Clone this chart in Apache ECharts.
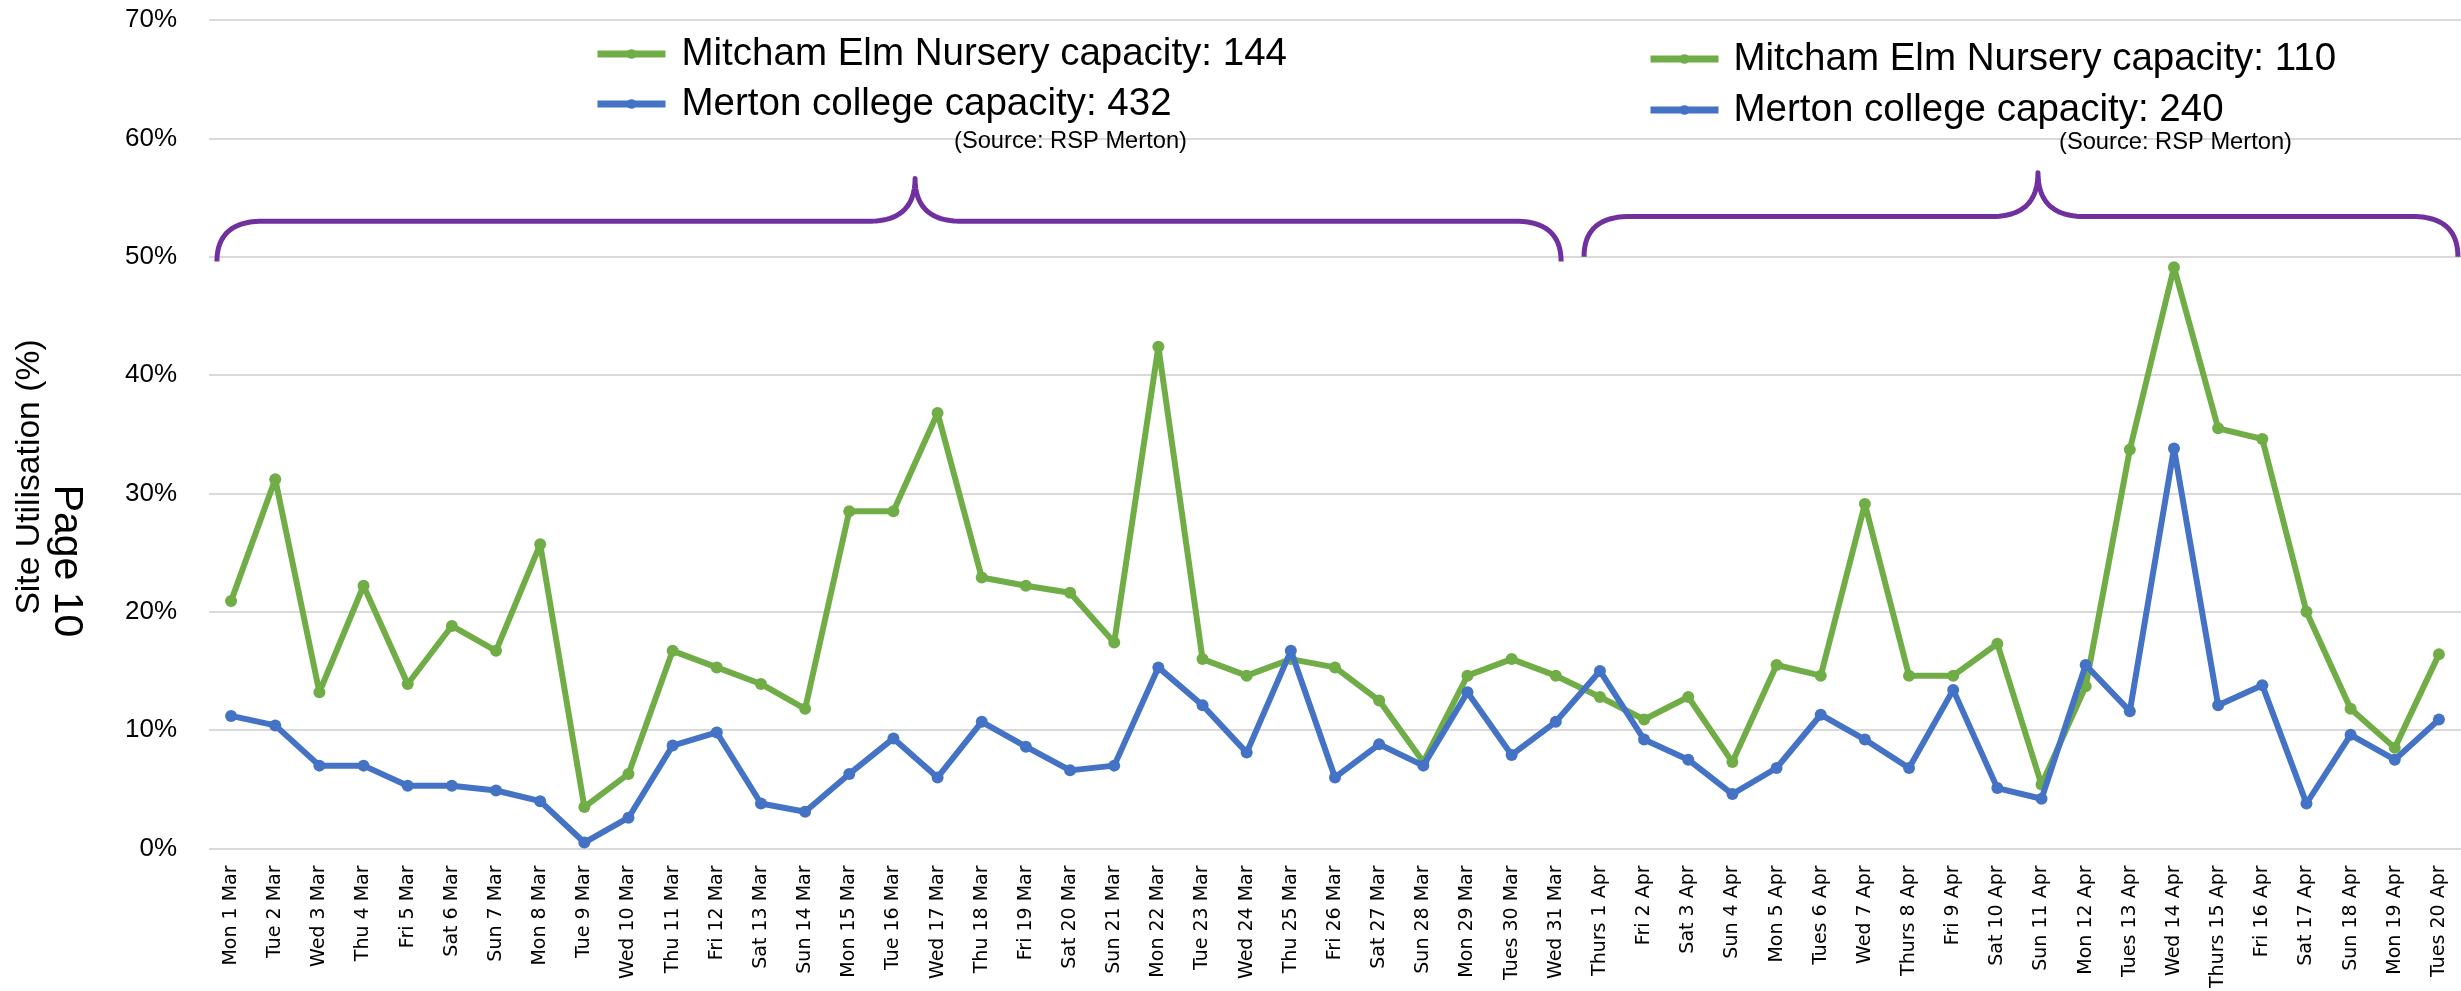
<!DOCTYPE html>
<html>
<head>
<meta charset="utf-8">
<script src="https://cdn.jsdelivr.net/npm/echarts@6/dist/echarts.min.js"></script>
<style>
html,body{margin:0;padding:0;background:#fff;}
#chart{width:2461px;height:991px;}
</style>
</head>
<body>
<div id="chart"></div>
<script>
const categories = ['Mon 1 Mar','Tue 2 Mar','Wed 3 Mar','Thu 4 Mar','Fri 5 Mar','Sat 6 Mar','Sun 7 Mar','Mon 8 Mar','Tue 9 Mar','Wed 10 Mar','Thu 11 Mar','Fri 12 Mar','Sat 13 Mar','Sun 14 Mar','Mon 15 Mar','Tue 16 Mar','Wed 17 Mar','Thu 18 Mar','Fri 19 Mar','Sat 20 Mar','Sun 21 Mar','Mon 22 Mar','Tue 23 Mar','Wed 24 Mar','Thu 25 Mar','Fri 26 Mar','Sat 27 Mar','Sun 28 Mar','Mon 29 Mar','Tues 30 Mar','Wed 31 Mar','Thurs 1 Apr','Fri 2 Apr','Sat 3 Apr','Sun 4 Apr','Mon 5 Apr','Tues 6 Apr','Wed 7 Apr','Thurs 8 Apr','Fri 9 Apr','Sat 10 Apr','Sun 11 Apr','Mon 12 Apr','Tues 13 Apr','Wed 14 Apr','Thurs 15 Apr','Fri 16 Apr','Sat 17 Apr','Sun 18 Apr','Mon 19 Apr','Tues 20 Apr'];

const mitchamValues = [20.9,31.2,13.2,22.2,13.9,18.8,16.7,25.7,3.5,6.3,16.7,15.3,
  13.9,11.8,28.5,28.5,36.8,22.9,22.2,21.6,17.4,42.4,16.0,
  14.6,16.0,15.3,12.5,7.3,14.6,16.0,14.6,12.8,10.9,12.8,
  7.3,15.5,14.6,29.1,14.6,14.6,17.3,5.4,13.7,33.7,49.1,35.5,
  34.6,20.0,11.8,8.5,16.4];

const mertonValues = [11.2,10.4,7.0,7.0,5.3,5.3,4.9,4.0,0.5,2.6,8.7,9.8,
  3.8,3.1,6.3,9.3,6.0,10.7,8.6,6.6,7.0,15.3,12.1,
  8.1,16.7,6.0,8.8,7.0,13.2,7.9,10.7,15.0,9.2,7.5,
  4.6,6.8,11.3,9.2,6.8,13.4,5.1,4.2,15.5,11.6,33.8,12.1,
  13.8,3.8,9.6,7.5,10.9];

const seriesNames = ['Mitcham Elm Nursery', 'Merton college'];
const capacitiesMarch = [144, 432];
const capacitiesApril = [110, 240];
const yTicks = [0,10,20,30,40,50,60,70];
const sourceText = '(Source: RSP Merton)';
const yAxisTitle = 'Site Utilisation (%)';
const pageText = 'Page 10';

const GREEN = '#70AD47', BLUE = '#4472C4', PURPLE = '#7030A0';
const chart = echarts.init(document.getElementById('chart'), null, {renderer:'canvas'});

function legendFormatter(caps){
  return function(name){
    return name + ' capacity: ' + caps[seriesNames.indexOf(name)];
  };
}
function legendText(padLeft){
  return {fontFamily:'Liberation Sans', fontSize:38.5, color:'#000', lineHeight:40, padding:[0,0,0,padLeft]};
}

const option = {
  animation:false,
  backgroundColor:'#fff',
  grid:{left:209, right:0, top:20, bottom:138, containLabel:false},
  legend:[
    {orient:'vertical', left:589, top:29, itemWidth:68, itemHeight:12, itemGap:10,
     data:seriesNames, formatter:legendFormatter(capacitiesMarch), textStyle:legendText(11),
     lineStyle:{width:7}, selectedMode:false},
    {orient:'vertical', left:1642, top:34, itemWidth:68, itemHeight:12, itemGap:11,
     data:seriesNames, formatter:legendFormatter(capacitiesApril), textStyle:legendText(10),
     lineStyle:{width:7}, selectedMode:false}
  ],
  xAxis:{
    type:'category', data:categories, boundaryGap:true,
    axisLine:{show:false}, axisTick:{show:false},
    axisLabel:{rotate:90, interval:0, fontFamily:'DejaVu Sans', fontSize:19, color:'#000', margin:17}
  },
  yAxis:{
    type:'value', min:yTicks[0], max:yTicks[yTicks.length-1], interval:10,
    axisLine:{show:false}, axisTick:{show:false},
    axisLabel:{formatter:'{value}%', fontFamily:'Liberation Sans', fontSize:26, color:'#000', margin:32},
    splitLine:{lineStyle:{color:'#D9D9D9', width:2}}
  },
  series:[
    {name:seriesNames[0], type:'line', data:mitchamValues, symbol:'circle', symbolSize:12,
     color:GREEN, lineStyle:{width:6, color:GREEN}, itemStyle:{color:GREEN}, z:2},
    {name:seriesNames[1], type:'line', data:mertonValues, symbol:'circle', symbolSize:12,
     color:BLUE, lineStyle:{width:6, color:BLUE}, itemStyle:{color:BLUE}, z:3}
  ]
};
chart.setOption(option);

// Brace annotations, expressed in category-index / value units
const braces = [
  {from:-0.32, to:30.12, tip:15.49, base:49.6, bar:53.0, top:56.6},
  {from:30.64, to:50.43, tip:40.92, base:50.0, bar:53.4, top:57.1}
];
function xPix(idx){
  const p0 = chart.convertToPixel({gridIndex:0}, [0, 0])[0];
  const p1 = chart.convertToPixel({gridIndex:0}, [1, 0])[0];
  return p0 + (p1 - p0) * idx;
}
function yPix(v){ return chart.convertToPixel({gridIndex:0}, [0, v])[1]; }

function quad(pts, a, c, b, n){
  for (let k = 1; k <= n; k++){
    const t = k / n, u = 1 - t;
    pts.push([u*u*a[0] + 2*u*t*c[0] + t*t*b[0], u*u*a[1] + 2*u*t*c[1] + t*t*b[1]]);
  }
}

const graphics = [];
braces.forEach(function(b){
  const x0 = xPix(b.from), x1 = xPix(b.to), xt = xPix(b.tip);
  const yb = yPix(b.base), yh = yPix(b.bar), yt = yPix(b.top);
  const r = 46, n = 24;
  const pts = [[x0, yb]];
  quad(pts, [x0, yb], [x0, yh], [x0 + r, yh], n);
  pts.push([xt - r, yh]);
  quad(pts, [xt - r, yh], [xt, yh], [xt, yt], n);
  quad(pts, [xt, yt], [xt, yh], [xt + r, yh], n);
  pts.push([x1 - r, yh]);
  quad(pts, [x1 - r, yh], [x1, yh], [x1, yb], n);
  graphics.push({type:'polyline', shape:{points:pts}, style:{fill:null, stroke:PURPLE, lineWidth:5, lineJoin:'round'}, z:10});
});

graphics.push({type:'text', left:954, top:129, style:{text:sourceText, fontFamily:'Liberation Sans', fontSize:23.7, fill:'#000'}, z:10});
graphics.push({type:'text', left:2059, top:130, style:{text:sourceText, fontFamily:'Liberation Sans', fontSize:23.7, fill:'#000'}, z:10});
graphics.push({type:'text', x:30, y:477, rotation:Math.PI/2,
  style:{text:yAxisTitle, fontFamily:'Liberation Sans', fontSize:33.7, fill:'#000', align:'center', verticalAlign:'middle'}, z:10});
graphics.push({type:'text', x:66, y:561, rotation:-Math.PI/2,
  style:{text:pageText, fontFamily:'Liberation Sans', fontSize:41, fill:'#000', align:'center', verticalAlign:'middle'}, z:11});

chart.setOption({graphic:graphics});
</script>
</body>
</html>
